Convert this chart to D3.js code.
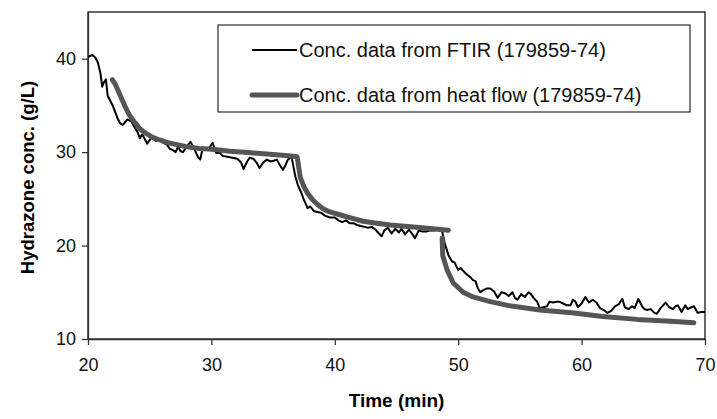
<!DOCTYPE html>
<html>
<head>
<meta charset="utf-8">
<script src="https://cdn.jsdelivr.net/npm/d3@7"></script>
<style>
  body { margin: 0; background: #fff; }
  svg { display: block; font-family: "Liberation Sans", Arial, sans-serif; }
</style>
</head>
<body>
<div id="chart"></div>
<script>
const width = 717;
const height = 419;
const margin = { top: 12, right: 12, bottom: 80, left: 88 };
const innerWidth = width - margin.left - margin.right;
const innerHeight = height - margin.top - margin.bottom;

// FTIR concentration (noisy trace)
const ftirTime = [20.0, 20.35, 20.6, 20.8, 21.0, 21.15, 21.3, 21.45, 21.6, 21.8, 22.0, 22.2, 22.4, 22.6, 22.8, 23.0, 23.2, 23.5, 23.8, 24.0,
  24.2, 24.4, 24.6, 24.8, 25.0, 25.2, 25.5, 25.8, 26.1, 26.4, 26.6, 26.9, 27.1, 27.3, 27.5, 27.7, 28.0, 28.3, 28.6, 28.9,
  29.1, 29.3, 29.6, 29.8, 30.1, 30.4, 30.7, 30.9, 31.3, 31.7, 32.1, 32.4, 32.6, 32.9, 33.1, 33.4, 33.7, 33.9, 34.2, 34.5,
  34.8, 35.1, 35.3, 35.5, 35.8, 36.0, 36.2, 36.5, 36.8, 37.0, 37.3, 37.5, 37.8, 38.0, 38.3, 38.6, 38.9, 39.2, 39.6, 40.0,
  40.3, 40.6, 40.9, 41.2, 41.5, 41.8, 42.1, 42.4, 42.7, 43.0, 43.3, 43.5, 43.8, 44.0, 44.3, 44.6, 44.9, 45.2, 45.4, 45.7,
  46.0, 46.3, 46.5, 46.8, 47.1, 47.4, 47.7, 48.0, 48.4, 48.7, 48.9, 49.2, 49.5, 49.7, 50.0, 50.2, 50.4, 50.7, 51.0, 51.2,
  51.4, 51.6, 51.8, 52.0, 52.3, 52.6, 52.9, 53.2, 53.5, 53.8, 54.1, 54.4, 54.6, 54.8, 55.1, 55.4, 55.7, 55.9, 56.1, 56.4,
  56.6, 56.9, 57.2, 57.4, 57.7, 58.0, 58.2, 58.5, 58.8, 59.1, 59.3, 59.5, 59.7, 60.0, 60.3, 60.6, 60.9, 61.2, 61.5, 61.8,
  62.1, 62.4, 62.7, 63.0, 63.3, 63.5, 63.8, 64.1, 64.3, 64.6, 64.9, 65.1, 65.3, 65.6, 65.9, 66.1, 66.4, 66.6, 66.8, 67.1,
  67.4, 67.6, 67.8, 68.1, 68.4, 68.6, 68.9, 69.1, 69.4, 69.7, 70.0];
const ftirConc = [40.2, 40.4, 40.1, 39.6, 38.5, 37.0, 37.5, 37.8, 36.0, 35.5, 35.0, 34.3, 33.6, 33.1, 32.9, 33.2, 33.5, 33.3, 32.6, 32.2,
  31.5, 31.9, 31.4, 30.9, 31.3, 31.6, 31.2, 31.4, 31.0, 30.8, 30.4, 30.2, 30.0, 30.6, 30.1, 30.0, 30.6, 31.1, 30.4, 29.5,
  29.2, 30.5, 30.3, 30.4, 31.0, 29.9, 29.9, 29.6, 29.5, 29.4, 29.3, 28.9, 28.2, 29.0, 29.4, 29.3, 28.8, 28.3, 28.9, 29.2,
  29.0, 29.1, 29.2, 28.7, 28.1, 28.6, 29.2, 29.5, 27.4, 26.5, 25.6, 24.9, 24.0, 24.2, 23.7, 23.6, 23.5, 23.2, 23.0, 23.0,
  22.7, 22.5, 22.7, 22.4, 22.4, 22.2, 22.1, 22.0, 21.9, 22.0, 21.7, 21.4, 21.0, 21.6, 21.9, 21.3, 21.8, 21.4, 21.8, 21.2,
  21.7, 21.2, 20.8, 21.6, 21.5, 21.5, 21.6, 21.6, 21.7, 21.5, 20.3, 19.0, 18.3, 18.2, 17.4, 17.6, 17.3, 16.9, 16.6, 16.3,
  16.2, 15.4, 15.0, 15.2, 15.4, 15.4, 15.1, 14.4, 15.0, 14.9, 14.6, 15.0, 14.4, 14.2, 14.8, 14.5, 15.0, 14.8, 14.4, 14.0,
  13.3, 13.4, 13.5, 14.0, 13.9, 14.0, 14.0, 13.8, 13.6, 13.6, 14.2, 14.0, 13.4, 13.8, 14.5, 13.9, 14.2, 13.9, 13.3, 13.1,
  12.8, 13.0, 13.5, 13.7, 14.3, 13.4, 13.2, 13.5, 13.3, 14.3, 13.5, 13.2, 13.1, 13.2, 12.8, 12.7, 13.3, 13.6, 13.9, 13.4,
  13.2, 13.5, 13.6, 12.9, 13.6, 13.2, 13.4, 13.5, 12.8, 12.9, 12.9];

// heat flow concentration (null = break between additions)
const heatTime = [21.97, 22.2, 22.4, 22.7, 23.0, 23.3, 23.6, 24.2, 24.7, 25.2, 25.8, 26.5, 27.2, 27.9, 29.0, 30.1, 31.5, 33.0, 34.5, 36.0, 36.95,
  37.2, 37.5, 37.8, 38.2, 38.6, 39.1, 39.6, 40.4, 41.2, 42.3, 43.1, 44.5, 45.9, 47.5, 49.2,
  49.0,
  48.7, 48.75, 49.1, 49.6, 50.4, 51.2, 52.6, 54.0, 56.6, 59.2, 61.7, 64.5, 67.2, 69.1];
const heatConc = [37.75, 37.3, 36.7, 35.8, 34.9, 34.1, 33.5, 32.5, 32.0, 31.6, 31.3, 31.0, 30.8, 30.6, 30.4, 30.3, 30.1, 29.95, 29.8, 29.65, 29.5,
  27.3, 26.3, 25.6, 24.9, 24.4, 23.9, 23.6, 23.3, 23.0, 22.6, 22.45, 22.2, 22.05, 21.85, 21.65,
  null,
  20.8, 18.9, 17.4, 16.0, 15.0, 14.5, 14.0, 13.6, 13.1, 12.8, 12.4, 12.1, 11.9, 11.75];

const xTicks = [20, 30, 40, 50, 60, 70];
const yTicks = [10, 20, 30, 40];
const legendLabels = ["Conc. data from FTIR (179859-74)", "Conc. data from heat flow (179859-74)"];

const ftirData = ftirTime.map((t, i) => ({ t: t, c: ftirConc[i] }));
const heatData = heatTime.map((t, i) => ({ t: t, c: heatConc[i] }));

const svg = d3.select('#chart')
  .append('svg')
  .attr('width', width)
  .attr('height', height);

const xScale = d3.scaleLinear().domain([20, 70]).range([0, innerWidth]);
const yScale = d3.scaleLinear().domain([10, 45]).range([innerHeight, 0]);

const g = svg.append('g')
  .attr('transform', `translate(${margin.left},${margin.top})`);

// frame
g.append('rect')
  .attr('width', innerWidth)
  .attr('height', innerHeight)
  .attr('fill', 'none')
  .attr('stroke', '#000')
  .attr('stroke-width', 1.2);

const xAxis = d3.axisBottom(xScale).tickValues(xTicks).tickSize(6).tickPadding(13).tickSizeOuter(0);
const yAxis = d3.axisLeft(yScale).tickValues(yTicks).tickSize(6).tickPadding(6).tickSizeOuter(0);

const gx = g.append('g')
  .attr('transform', `translate(0,${innerHeight})`)
  .call(xAxis);
const gy = g.append('g').call(yAxis);

[gx, gy].forEach(a => {
  a.selectAll('path, line').attr('stroke', '#333').attr('stroke-width', 1.3);
  a.selectAll('text').attr('font-size', 18).attr('fill', '#111')
    .attr('font-family', '"Liberation Sans", Arial, sans-serif');
});

const line = d3.line()
  .defined(d => d.c != null)
  .x(d => xScale(d.t))
  .y(d => yScale(d.c));

g.append('path')
  .datum(ftirData)
  .attr('d', line)
  .attr('fill', 'none')
  .attr('stroke', '#000')
  .attr('stroke-width', 2)
  .attr('stroke-linejoin', 'round');

g.append('path')
  .datum(heatData)
  .attr('d', line)
  .attr('fill', 'none')
  .attr('stroke', '#555')
  .attr('stroke-width', 5)
  .attr('stroke-linejoin', 'round')
  .attr('stroke-linecap', 'round');

// legend
const legend = svg.append('g').attr('transform', 'translate(218,25)');
legend.append('rect')
  .attr('width', 472)
  .attr('height', 87)
  .attr('fill', '#fff')
  .attr('stroke', '#000')
  .attr('stroke-width', 1);

const legendStyles = [{ color: '#000', w: 2, x0: 34, cap: 'butt' }, { color: '#555', w: 5, x0: 34, cap: 'round' }];
legendLabels.forEach((label, i) => {
  const y = 25 + i * 45;
  legend.append('line')
    .attr('x1', legendStyles[i].x0).attr('x2', 79)
    .attr('y1', y).attr('y2', y)
    .attr('stroke', legendStyles[i].color)
    .attr('stroke-width', legendStyles[i].w)
    .attr('stroke-linecap', legendStyles[i].cap);
  legend.append('text')
    .attr('x', 81)
    .attr('y', y)
    .attr('dy', '0.35em')
    .attr('font-size', 20)
    .attr('fill', '#111')
    .text(label);
});

// axis titles
svg.append('text')
  .attr('x', margin.left + innerWidth / 2)
  .attr('y', 407)
  .attr('text-anchor', 'middle')
  .attr('font-size', 19)
  .attr('font-weight', 'bold')
  .text('Time (min)');

svg.append('text')
  .attr('transform', `translate(28,${margin.top + innerHeight / 2 + 2}) rotate(-90)`)
  .attr('text-anchor', 'middle')
  .attr('dy', '0.35em')
  .attr('font-size', 18.5)
  .attr('font-weight', 'bold')
  .text('Hydrazone conc. (g/L)');
</script>
</body>
</html>
